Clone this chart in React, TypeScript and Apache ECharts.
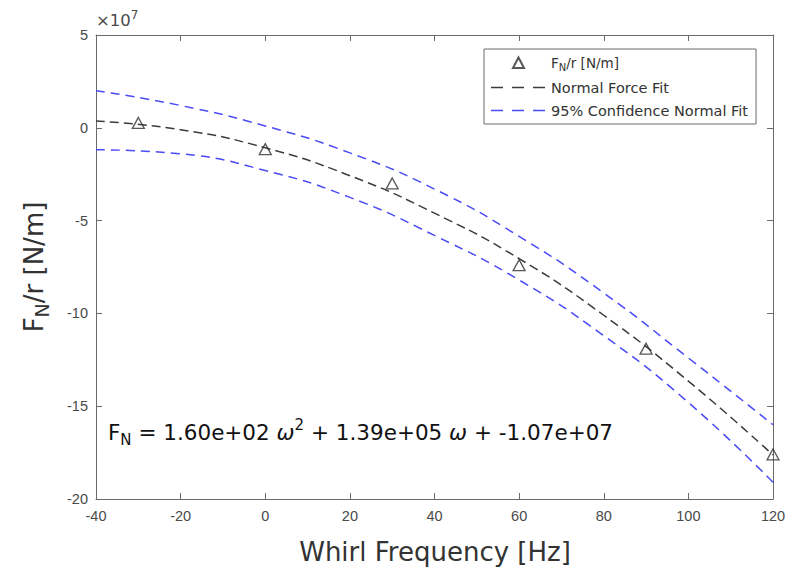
import React, { useEffect, useRef } from "react";
import * as echarts from "echarts";

// Whirl frequency grid for the fitted curves (Hz)
const freqHz = [-40, -20, 0, 20, 40, 60, 80, 100, 120];
// Values in units of 1e7 N/m
const fitValues = [0.36, -0.1, -1.08, -2.58, -4.6, -7.05, -10.1, -13.65, -17.63];
const upperValues = [2.0, 1.2, 0.1, -1.35, -3.3, -5.85, -8.9, -12.4, -16.0];
const lowerValues = [-1.18, -1.4, -2.3, -3.75, -5.8, -8.2, -11.2, -14.8, -19.1];
// Measured points
const measuredHz = [-30, 0, 30, 60, 90, 120];
const measuredValues = [0.26, -1.15, -3.0, -7.4, -11.9, -17.6];

const seriesNames = ["FN/r [N/m]", "Normal Force Fit", "95% Confidence Normal Fit"];

const FONT = "'Liberation Sans', Arial, Helvetica, sans-serif";
const WIDE = "'DejaVu Sans', 'Liberation Sans', sans-serif";
const AXIS_COLOR = "#6a6a6a";
const LABEL_COLOR = "#4a4a4a";
const BLUE = "#4a4af7";
const BLACK = "#3c3c3c";

export default function App() {
  const ref = useRef<HTMLDivElement>(null);
  useEffect(() => {
    if (!ref.current) return;
    const chart = echarts.init(ref.current, null, { renderer: "svg" });
    const pair = (xs: number[], ys: number[]) => xs.map((x, i) => [x, ys[i]]);
    const axisCommon = {
      axisLine: { show: true, onZero: false, lineStyle: { color: AXIS_COLOR, width: 1 } },
      axisTick: { show: true, inside: true, length: 6, lineStyle: { color: AXIS_COLOR } },
      splitLine: { show: false },
    };
    const option: any = {
      animation: false,
      backgroundColor: "#ffffff",
      grid: { left: 96, right: 16, top: 35, bottom: 76, containLabel: false },
      xAxis: [
        {
          type: "value", min: -40, max: 120, interval: 20, position: "bottom",
          ...axisCommon,
          axisLabel: { color: LABEL_COLOR, fontSize: 14.5, fontFamily: FONT, margin: 9 },
        },
        {
          type: "value", min: -40, max: 120, interval: 20, position: "top",
          ...axisCommon, axisLabel: { show: false },
        },
      ],
      yAxis: [
        {
          type: "value", min: -20, max: 5, interval: 5, position: "left",
          ...axisCommon,
          axisLabel: { color: LABEL_COLOR, fontSize: 14.5, fontFamily: FONT, margin: 8 },
        },
        {
          type: "value", min: -20, max: 5, interval: 5, position: "right",
          ...axisCommon, axisLabel: { show: false },
        },
      ],
      legend: {
        show: true,
        orient: "vertical",
        left: 484,
        top: 49,
        padding: [6, 8, 6, 6],
        itemGap: 8,
        itemWidth: 55,
        itemHeight: 13,
        backgroundColor: "#ffffff",
        borderColor: "#6a6a6a",
        borderWidth: 1,
        borderRadius: 0,
        data: [
          {
            name: seriesNames[0],
            icon: "path://M0,0 M55,13 M22,12 L27.5,1.5 L33,12 Z",
          },
          { name: seriesNames[1], itemStyle: { opacity: 0 }, lineStyle: { type: [12, 9], width: 1.4 } },
          { name: seriesNames[2], itemStyle: { opacity: 0 }, lineStyle: { type: [12, 9], width: 1.4 } },
        ],
        textStyle: {
          color: "#333",
          fontSize: 14.5,
          fontFamily: WIDE,
          rich: {
            a: { fontSize: 13.5, fontFamily: WIDE, color: "#333" },
            b: { fontSize: 10, fontFamily: WIDE, color: "#333", padding: [9, 0, 0, 0] },
          },
        },
        formatter: (name: string) =>
          name === seriesNames[0] ? "{a|F}{b|N}{a|/r [N/m]}" : name,
      },
      series: [
        {
          name: seriesNames[0],
          type: "scatter",
          data: pair(measuredHz, measuredValues),
          symbol: "triangle",
          symbolSize: [12, 11],
          itemStyle: { color: "rgba(255,255,255,0)", borderColor: "#2e2e2e", borderWidth: 1.3 },
          z: 5,
        },
        {
          name: seriesNames[1],
          type: "line",
          data: pair(freqHz, fitValues),
          smooth: true,
          symbol: "none",
          lineStyle: { color: BLACK, width: 1.5, type: [9, 5] },
          itemStyle: { color: BLACK },
        },
        {
          name: seriesNames[2],
          type: "line",
          data: pair(freqHz, upperValues),
          smooth: true,
          symbol: "none",
          lineStyle: { color: BLUE, width: 1.5, type: [9, 6] },
          itemStyle: { color: BLUE },
        },
        {
          name: seriesNames[2],
          type: "line",
          data: pair(freqHz, lowerValues),
          smooth: true,
          symbol: "none",
          lineStyle: { color: BLUE, width: 1.5, type: [9, 6] },
          itemStyle: { color: BLUE },
        },
      ],
      graphic: [
        {
          type: "text",
          x: 96,
          y: 31,
          style: {
            text: "{m|×10}{e|7}",
            align: "left",
            verticalAlign: "bottom",
            rich: {
              m: { fontSize: 16.5, fontFamily: WIDE, fill: LABEL_COLOR },
              e: { fontSize: 12, fontFamily: WIDE, fill: LABEL_COLOR, padding: [0, 0, 10, 0] },
            },
          },
        },
        {
          type: "text",
          x: 435,
          y: 552,
          style: {
            text: "Whirl Frequency [Hz]",
            fontSize: 26,
            fontFamily: WIDE,
            fill: "#333",
            align: "center",
            verticalAlign: "middle",
          },
        },
        {
          type: "text",
          x: 34,
          y: 267,
          rotation: Math.PI / 2,
          style: {
            text: "{a|F}{b|N}{a|/r [N/m]}",
            align: "center",
            verticalAlign: "middle",
            rich: {
              a: { fontSize: 26, fontFamily: WIDE, fill: "#333" },
              b: { fontSize: 19, fontFamily: WIDE, fill: "#333", padding: [16, 0, 0, 0] },
            },
          },
        },
        {
          type: "text",
          x: 108,
          y: 432,
          style: {
            text: "{a|F}{b|N}{a| = 1.60e+02 }{w|ω}{p|2}{a| + 1.39e+05 }{w|ω}{a| + -1.07e+07}",
            align: "left",
            verticalAlign: "middle",
            rich: {
              a: { fontSize: 21.5, fontFamily: WIDE, fill: "#111" },
              w: { fontSize: 21.5, fontFamily: WIDE, fontStyle: "italic", fill: "#111" },
              b: { fontSize: 15, fontFamily: WIDE, fill: "#111", padding: [16, 0, 0, 0] },
              p: { fontSize: 15, fontFamily: WIDE, fill: "#111", padding: [0, 0, 14, 0] },
            },
          },
        },
      ],
    };
    chart.setOption(option);
    return () => chart.dispose();
  }, []);
  return (
    <div
      ref={ref}
      style={{ position: "absolute", left: 0, top: 0, width: 789, height: 575 }}
    />
  );
}
